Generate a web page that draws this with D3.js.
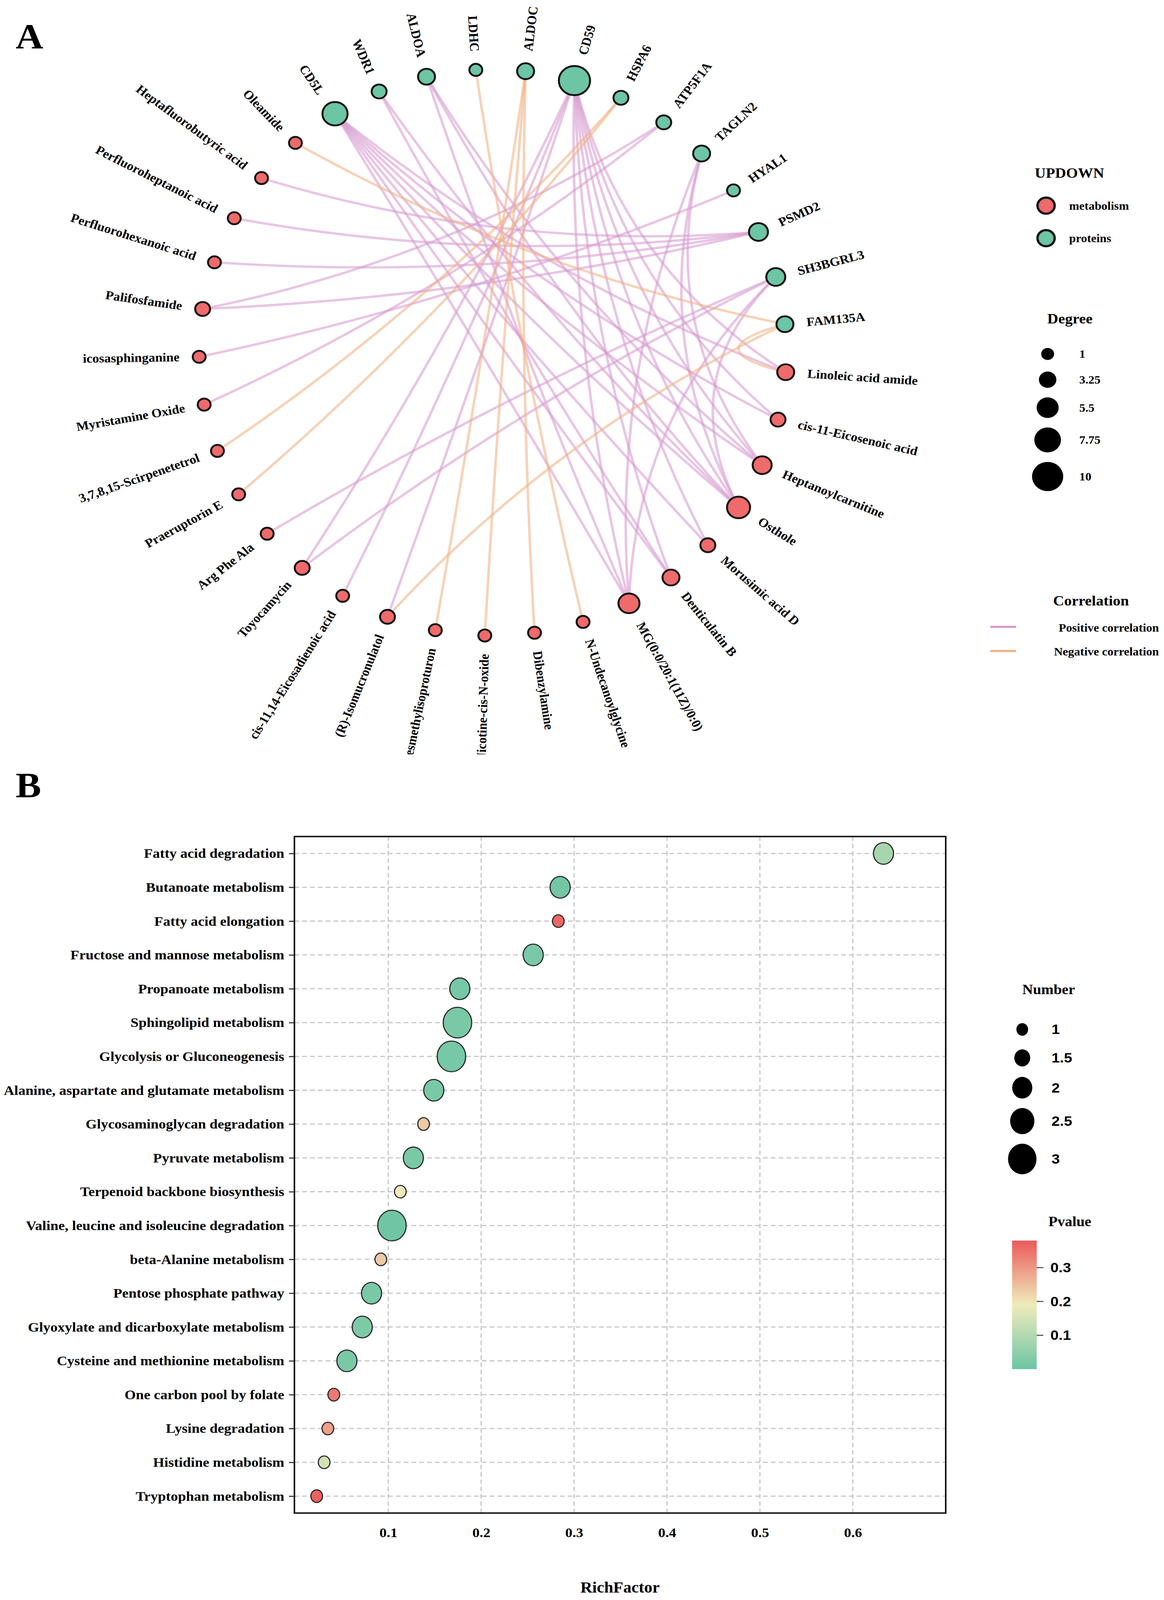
<!DOCTYPE html>
<html>
<head>
<meta charset="utf-8">
<script src="https://cdn.jsdelivr.net/npm/d3@7"></script>
<style>
  html, body { margin: 0; padding: 0; background: #fff; overflow: hidden; }
  #canvas { display: block; width: 100vw; height: 100vh; }
  text { font-family: "Liberation Serif", "Times New Roman", serif; font-weight: bold; fill: #000; }
  .sans { font-family: "Liberation Sans", Arial, sans-serif; }
</style>
</head>
<body>
<svg id="canvas" viewBox="0 0 2981 4380" preserveAspectRatio="none"></svg>
<script>
// ---------- panel A : correlation network ----------
const proteins = ['CD5L', 'WDR1', 'ALDOA', 'LDHC', 'ALDOC', 'CD59', 'HSPA6', 'ATP5F1A',
    'TAGLN2', 'HYAL1', 'PSMD2', 'SH3BGRL3', 'FAM135A'];

const metabolites = ['Linoleic acid amide', 'cis-11-Eicosenoic acid', 'Heptanoylcarnitine', 'Osthole',
    'Morusimic acid D', 'Denticulatin B', 'MG(0:0/20:1(11Z)/0:0)', 'N-Undecanoylglycine', 'Dibenzylamine',
    'Nicotine-cis-N-oxide', 'Desmethylisoproturon', '(R)-Isomucronulatol', 'cis-11,14-Eicosadienoic acid',
    'Toyocamycin', 'Arg Phe Ala', 'Praeruptorin E', '3,7,8,15-Scirpenetetrol', 'Myristamine Oxide',
    'icosasphinganine', 'Palifosfamide', 'Perfluorohexanoic acid', 'Perfluoroheptanoic acid',
    'Heptafluorobutyric acid', 'Oleamide'];

const positiveLinks = [
    ['CD5L', 'Linoleic acid amide'], ['CD5L', 'cis-11-Eicosenoic acid'], ['CD5L', 'Heptanoylcarnitine'],
    ['CD5L', 'Osthole'], ['CD5L', 'Morusimic acid D'], ['CD5L', 'Denticulatin B'], ['CD5L', 'MG(0:0/20:1(11Z)/0:0)'],
    ['CD59', 'Toyocamycin'], ['CD59', 'cis-11,14-Eicosadienoic acid'], ['CD59', '(R)-Isomucronulatol'],
    ['CD59', 'Linoleic acid amide'], ['CD59', 'cis-11-Eicosenoic acid'], ['CD59', 'Heptanoylcarnitine'],
    ['CD59', 'Osthole'], ['CD59', 'Morusimic acid D'], ['CD59', 'Denticulatin B'], ['CD59', 'MG(0:0/20:1(11Z)/0:0)'],
    ['TAGLN2', 'Heptanoylcarnitine'], ['TAGLN2', 'Osthole'], ['TAGLN2', 'MG(0:0/20:1(11Z)/0:0)'],
    ['SH3BGRL3', 'Arg Phe Ala'], ['SH3BGRL3', 'Toyocamycin'], ['SH3BGRL3', 'Osthole'],
    ['SH3BGRL3', 'MG(0:0/20:1(11Z)/0:0)'],
    ['ALDOA', 'Heptanoylcarnitine'], ['ALDOA', 'Osthole'], ['ALDOA', 'MG(0:0/20:1(11Z)/0:0)'],
    ['WDR1', 'Osthole'], ['WDR1', 'Denticulatin B'],
    ['PSMD2', 'Heptafluorobutyric acid'], ['PSMD2', 'Palifosfamide'], ['PSMD2', 'Perfluorohexanoic acid'],
    ['PSMD2', 'Perfluoroheptanoic acid'],
    ['HYAL1', 'icosasphinganine'],
    ['ATP5F1A', 'Myristamine Oxide'], ['ATP5F1A', 'Palifosfamide']
];

const negativeLinks = [
    ['LDHC', 'N-Undecanoylglycine'], ['ALDOC', 'Desmethylisoproturon'], ['ALDOC', 'Nicotine-cis-N-oxide'],
    ['ALDOC', 'Dibenzylamine'], ['HSPA6', '3,7,8,15-Scirpenetetrol'], ['HSPA6', 'Praeruptorin E'],
    ['FAM135A', 'Oleamide'], ['FAM135A', '(R)-Isomucronulatol'], ['FAM135A', 'Linoleic acid amide']
];

const updownLabels = ['metabolism', 'proteins'];
const degreeTicks = [1, 3.25, 5.5, 7.75, 10];
const correlationLabels = ['Positive correlation', 'Negative correlation'];

// ---------- panel B : enrichment bubble chart ----------
const pathways = ['Fatty acid degradation', 'Butanoate metabolism', 'Fatty acid elongation',
    'Fructose and mannose metabolism', 'Propanoate metabolism', 'Sphingolipid metabolism',
    'Glycolysis or Gluconeogenesis', 'Alanine, aspartate and glutamate metabolism',
    'Glycosaminoglycan degradation', 'Pyruvate metabolism', 'Terpenoid backbone biosynthesis',
    'Valine, leucine and isoleucine degradation', 'beta-Alanine metabolism', 'Pentose phosphate pathway',
    'Glyoxylate and dicarboxylate metabolism', 'Cysteine and methionine metabolism',
    'One carbon pool by folate', 'Lysine degradation', 'Histidine metabolism', 'Tryptophan metabolism'];
const richFactor = [0.633, 0.285, 0.283, 0.256, 0.177, 0.1745, 0.168, 0.149, 0.138, 0.127,
    0.113, 0.104, 0.092, 0.082, 0.072, 0.0555, 0.0414, 0.035, 0.031, 0.023];
const geneNumber = [2, 2, 1, 2, 2, 3, 3, 2, 1, 2, 1, 3, 1, 2, 2, 2, 1, 1, 1, 1];
const pValue = [0.085, 0.01, 0.36, 0.02, 0.015, 0.02, 0.015, 0.02, 0.235, 0.02,
    0.19, 0.005, 0.235, 0.02, 0.025, 0.02, 0.34, 0.29, 0.15, 0.37];
const richTicks = [0.1, 0.2, 0.3, 0.4, 0.5, 0.6];
const numberTicks = [1, 1.5, 2, 2.5, 3];
const pTicks = [0.1, 0.2, 0.3];

const canvas = d3.select('#canvas');
canvas.append('rect').attr('width', 2981).attr('height', 4380).attr('fill', '#fff');

// panel letters
canvas.append('text').text('A').attr('x', 40).attr('y', 133).style('font-size', '98px');
canvas.append('text').text('B').attr('x', 40).attr('y', 2183).style('font-size', '98px');

// ================= network =================
const netCx = 1262, netCy = 965, netRx = 752, netRy = 775;

let nodes = proteins.map(n => ({ name: n, type: 'proteins' }))
    .concat(metabolites.map(n => ({ name: n, type: 'metabolism' })));
let links = positiveLinks.map(l => ({ source: l[0], target: l[1], kind: 'pos' }))
    .concat(negativeLinks.map(l => ({ source: l[0], target: l[1], kind: 'neg' })));

let degree = {};
links.forEach(l => {
    degree[l.source] = (degree[l.source] || 0) + 1;
    degree[l.target] = (degree[l.target] || 0) + 1;
});

// angle (deg, clockwise from top) of every node on the ring
const angleScale = d3.scaleBand().domain(nodes.map(d => d.name)).range([-32.5, 327.5]);
const radiusScale = d3.scaleLinear().domain([1, 10]).range([16.5, 40]);
const typeColor = d3.scaleOrdinal().domain(updownLabels).range(['#ef6a6b', '#6cc5a5']);
const edgeColor = d3.scaleOrdinal().domain(['pos', 'neg']).range(['#d79bd0', '#f2b283']);

let byName = {};
nodes.forEach(d => {
    d.theta = angleScale(d.name);
    let t = d.theta * Math.PI / 180;
    d.ux = Math.sin(t);
    d.uy = -Math.cos(t);
    d.x = netCx + netRx * d.ux;
    d.y = netCy + netRy * d.uy;
    d.r = radiusScale(degree[d.name]);
    byName[d.name] = d;
});

const clipA = canvas.append('clipPath').attr('id', 'clipA');
clipA.append('rect').attr('x', 0).attr('y', 0).attr('width', 2981).attr('height', 2065);
const netG = canvas.append('g').attr('clip-path', 'url(#clipA)');

//edges bend toward the centre of the ring, short chords bend most
const bend = 0.32;
const edgePath = (l) => {
    let s = byName[l.source], e = byName[l.target];
    let mx = (s.x + e.x) / 2, my = (s.y + e.y) / 2;
    let p = d3.path();
    p.moveTo(s.x, s.y);
    p.quadraticCurveTo(mx + bend * (netCx - mx), my + bend * (netCy - my), e.x, e.y);
    return p.toString();
};

netG.selectAll('path.edge')
    .data(links)
    .enter()
    .append('path')
    .attr('class', 'edge')
    .attr('d', edgePath)
    .attr('fill', 'none')
    .attr('stroke', l => edgeColor(l.kind))
    .attr('stroke-width', 6.5)
    .attr('stroke-opacity', 0.58);

netG.selectAll('circle.node')
    .data(nodes)
    .enter()
    .append('circle')
    .attr('class', 'node')
    .attr('cx', d => d.x)
    .attr('cy', d => d.y)
    .attr('r', d => d.r)
    .attr('fill', d => typeColor(d.type))
    .attr('stroke', '#111')
    .attr('stroke-width', 5);

netG.selectAll('text.label')
    .data(nodes)
    .enter()
    .append('text')
    .attr('class', 'label')
    .text(d => d.name)
    .style('font-size', '34px')
    .attr('dominant-baseline', 'central')
    .attr('text-anchor', d => (d.theta > 0 && d.theta < 180) ? 'start' : 'end')
    .attr('transform', d => {
        let off = d.r + 34;
        let lx = d.x + off * d.ux, ly = d.y + off * d.uy;
        let rot = d.theta - 90;
        if (!(d.theta > 0 && d.theta < 180)) rot += 180;
        return 'translate(' + lx + ',' + ly + ') rotate(' + rot + ')';
    });

// legend A
const legA = canvas.append('g');
legA.append('text').text('UPDOWN').attr('x', 2650).attr('y', 487).style('font-size', '39px');
legA.selectAll('circle.ud')
    .data(updownLabels)
    .enter()
    .append('circle')
    .attr('cx', 2679)
    .attr('cy', (d, i) => 563 + i * 89)
    .attr('r', 22)
    .attr('fill', d => typeColor(d))
    .attr('stroke', '#111')
    .attr('stroke-width', 6);
legA.selectAll('text.ud')
    .data(updownLabels)
    .enter()
    .append('text')
    .text(d => d)
    .attr('x', 2738)
    .attr('y', (d, i) => 563 + i * 89)
    .attr('dominant-baseline', 'central')
    .style('font-size', '31px');

legA.append('text').text('Degree').attr('x', 2682).attr('y', 885).style('font-size', '39px');
let degY = [];
let yy = 969;
degreeTicks.forEach((v, i) => {
    if (i > 0) {
        let hPrev = Math.max(2 * radiusScale(degreeTicks[i - 1]) + 26, 70);
        let hCur = Math.max(2 * radiusScale(v) + 26, 70);
        yy += (hPrev + hCur) / 2;
    }
    degY.push(yy);
});
legA.selectAll('circle.deg')
    .data(degreeTicks)
    .enter()
    .append('circle')
    .attr('cx', 2683)
    .attr('cy', (d, i) => degY[i])
    .attr('r', d => radiusScale(d))
    .attr('fill', '#000');
legA.selectAll('text.deg')
    .data(degreeTicks)
    .enter()
    .append('text')
    .text(d => d)
    .attr('x', 2764)
    .attr('y', (d, i) => degY[i])
    .attr('dominant-baseline', 'central')
    .style('font-size', '31px');

legA.append('text').text('Correlation').attr('x', 2697).attr('y', 1658).style('font-size', '39px');
legA.selectAll('line.cor')
    .data(['pos', 'neg'])
    .enter()
    .append('line')
    .attr('x1', 2536).attr('x2', 2602)
    .attr('y1', (d, i) => 1716 + i * 66)
    .attr('y2', (d, i) => 1716 + i * 66)
    .attr('stroke', d => edgeColor(d))
    .attr('stroke-width', 6);
legA.selectAll('text.cor')
    .data(correlationLabels)
    .enter()
    .append('text')
    .text(d => d)
    .attr('x', 2968)
    .attr('y', (d, i) => 1718 + i * 66)
    .attr('text-anchor', 'end')
    .attr('dominant-baseline', 'central')
    .style('font-size', '31px');

// ================= bubble chart =================
const plotL = 754, plotR = 2422, plotT = 2290, plotB = 4142;
const xScale = d3.scaleLinear().domain([-0.001, 0.7]).range([plotL, plotR]);
const yScale = d3.scalePoint().domain(pathways).range([plotT, plotB]).padding(0.5);
const sizeScale = d3.scaleLinear().domain([1, 3]).range([15, 36.5]);
const stretch = 1.15;
const pColor = d3.scaleLinear().domain([0, 0.19, 0.38]).range(['#6cc5a4', '#efebbb', '#ec5a5c']);

const gB = canvas.append('g');

// grid
gB.selectAll('line.hgrid')
    .data(pathways)
    .enter()
    .append('line')
    .attr('x1', plotL).attr('x2', plotR)
    .attr('y1', d => yScale(d)).attr('y2', d => yScale(d))
    .attr('stroke', '#c4c4c4').attr('stroke-width', 3).attr('stroke-dasharray', '12,8');
gB.selectAll('line.vgrid')
    .data(richTicks)
    .enter()
    .append('line')
    .attr('x1', d => xScale(d)).attr('x2', d => xScale(d))
    .attr('y1', plotT).attr('y2', plotB)
    .attr('stroke', '#c4c4c4').attr('stroke-width', 3).attr('stroke-dasharray', '12,8');

// axes
const yAxis = gB.append('g')
    .attr('transform', 'translate(' + plotL + ',0)')
    .call(d3.axisLeft(yScale).tickSize(14).tickPadding(12));
const xAxis = gB.append('g')
    .attr('transform', 'translate(0,' + plotB + ')')
    .call(d3.axisBottom(xScale).tickValues(richTicks).tickSize(0).tickPadding(40).tickFormat(d3.format('.1f')));
[yAxis, xAxis].forEach(ax => {
    ax.select('.domain').remove();
    ax.selectAll('.tick line').attr('stroke', '#333').attr('stroke-width', 3);
    ax.selectAll('.tick text')
        .style('font-family', '"Liberation Serif", "Times New Roman", serif')
        .style('font-weight', 'bold')
        .style('font-size', '37px')
        .attr('fill', '#000');
});

// bubbles
let bubbles = pathways.map((p, i) => ({ name: p, rich: richFactor[i], n: geneNumber[i], p: pValue[i] }));
gB.selectAll('ellipse.bubble')
    .data(bubbles)
    .enter()
    .append('ellipse')
    .attr('class', 'bubble')
    .attr('cx', d => xScale(d.rich))
    .attr('cy', d => yScale(d.name))
    .attr('rx', d => sizeScale(d.n))
    .attr('ry', d => sizeScale(d.n) * stretch)
    .attr('fill', d => pColor(d.p))
    .attr('stroke', '#2a2a2a')
    .attr('stroke-width', 3);

// frame
gB.append('rect')
    .attr('x', plotL).attr('y', plotT)
    .attr('width', plotR - plotL).attr('height', plotB - plotT)
    .attr('fill', 'none').attr('stroke', '#111').attr('stroke-width', 4);

gB.append('text').text('RichFactor')
    .attr('x', (plotL + plotR) / 2).attr('y', 4360)
    .attr('text-anchor', 'middle')
    .style('font-size', '42px');

// legend B : Number
gB.append('text').text('Number').attr('x', 2618).attr('y', 2722).style('font-size', '38px');
let numY = [];
let ny = 2818;
numberTicks.forEach((v, i) => {
    if (i > 0) {
        let hPrev = Math.max(2 * sizeScale(numberTicks[i - 1]) * stretch + 26, 78);
        let hCur = Math.max(2 * sizeScale(v) * stretch + 26, 78);
        ny += (hPrev + hCur) / 2;
    }
    numY.push(ny);
});
gB.selectAll('ellipse.numkey')
    .data(numberTicks)
    .enter()
    .append('ellipse')
    .attr('cx', 2618)
    .attr('cy', (d, i) => numY[i])
    .attr('rx', d => sizeScale(d))
    .attr('ry', d => sizeScale(d) * stretch)
    .attr('fill', '#000');
gB.selectAll('text.numkey')
    .data(numberTicks)
    .enter()
    .append('text')
    .attr('class', 'sans')
    .text(d => d)
    .attr('x', 2693)
    .attr('y', (d, i) => numY[i])
    .attr('dominant-baseline', 'central')
    .style('font-size', '38px');

// legend B : Pvalue colour bar
gB.append('text').text('Pvalue').attr('x', 2685).attr('y', 3357).style('font-size', '38px');
const barScale = d3.scaleLinear().domain([0, 0.38]).range([3748, 3396]);
const grad = canvas.append('defs').append('linearGradient')
    .attr('id', 'pgrad').attr('x1', 0).attr('y1', 1).attr('x2', 0).attr('y2', 0);
d3.range(0, 1.0001, 0.05).forEach(f => {
    grad.append('stop').attr('offset', f).attr('stop-color', pColor(f * 0.38));
});
gB.append('rect')
    .attr('x', 2592).attr('y', barScale(0.38))
    .attr('width', 63).attr('height', barScale(0) - barScale(0.38))
    .attr('fill', 'url(#pgrad)');
gB.selectAll('line.ptick')
    .data(pTicks)
    .enter()
    .append('line')
    .attr('x1', 2655).attr('x2', 2672)
    .attr('y1', d => barScale(d)).attr('y2', d => barScale(d))
    .attr('stroke', '#555').attr('stroke-width', 3);
gB.selectAll('text.ptick')
    .data(pTicks)
    .enter()
    .append('text')
    .attr('class', 'sans')
    .text(d => d)
    .attr('x', 2690)
    .attr('y', d => barScale(d))
    .attr('dominant-baseline', 'central')
    .style('font-size', '38px');
</script>
</body>
</html>
